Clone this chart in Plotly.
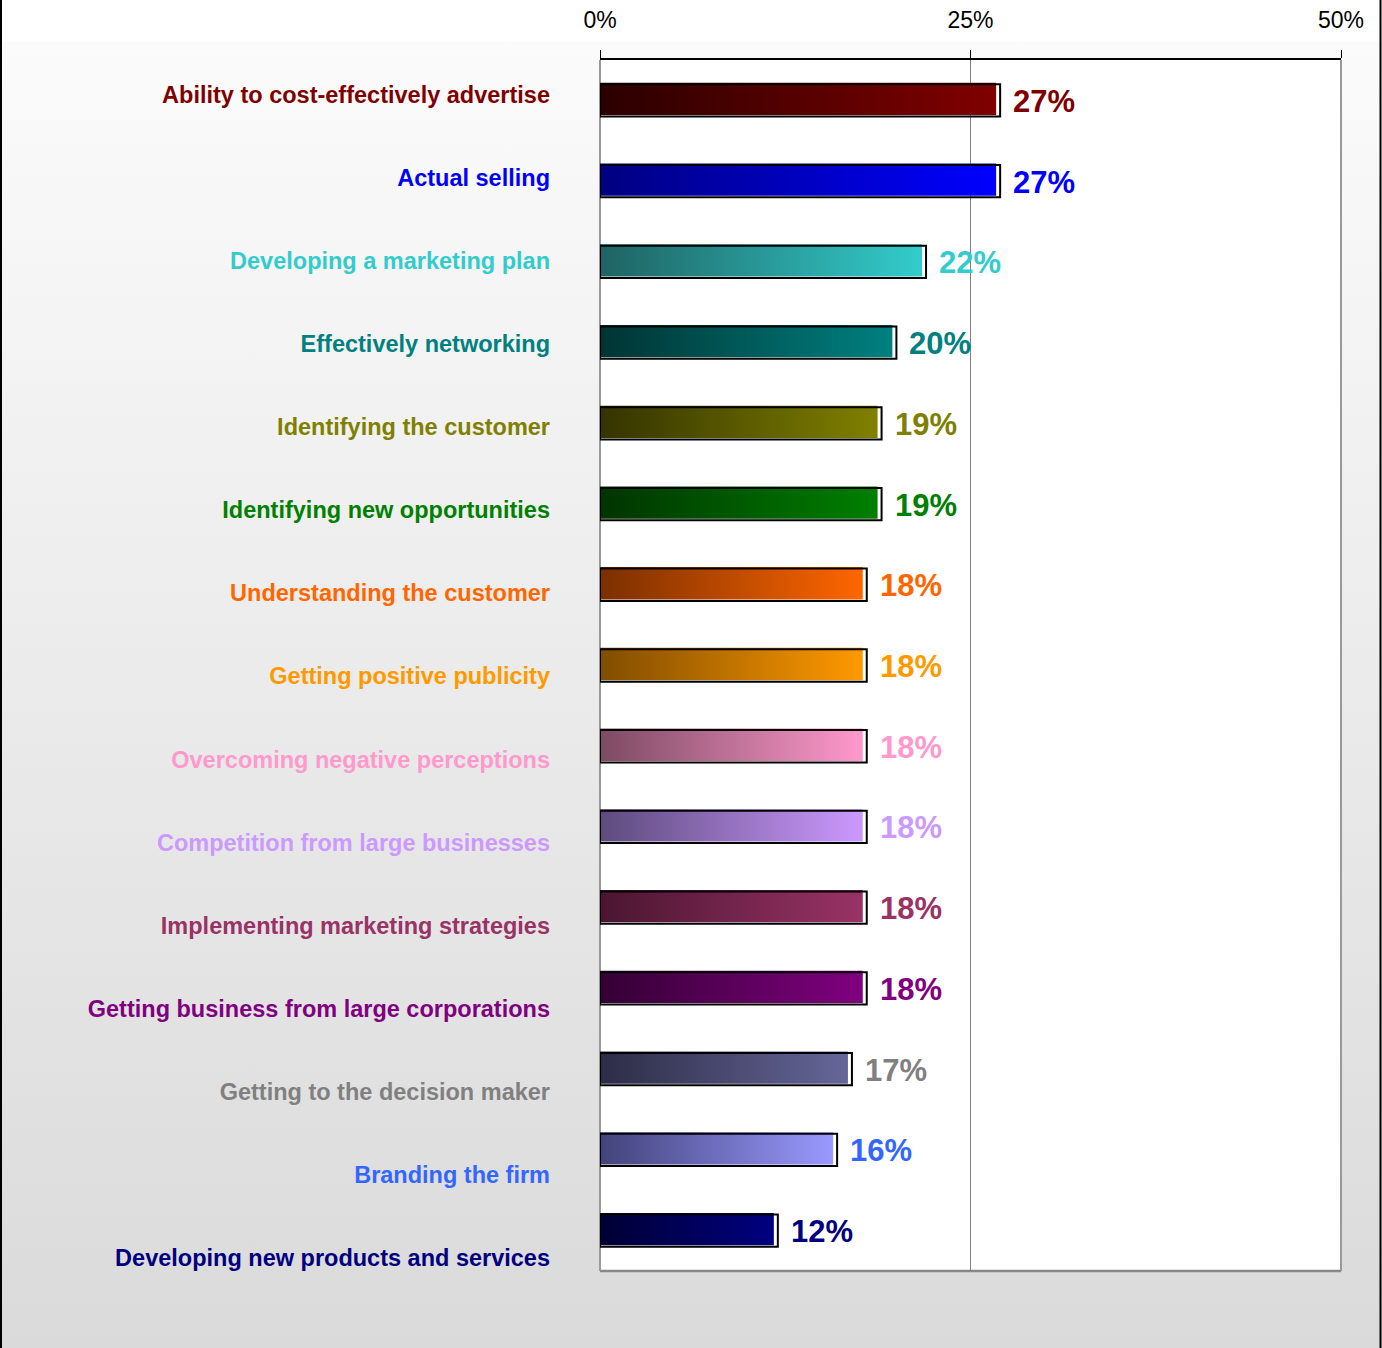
import base64
import plotly.graph_objects as go

categories = [
    "Ability to cost-effectively advertise",
    "Actual selling",
    "Developing a marketing plan",
    "Effectively networking",
    "Identifying the customer",
    "Identifying new opportunities",
    "Understanding the customer",
    "Getting positive publicity",
    "Overcoming negative perceptions",
    "Competition from large businesses",
    "Implementing marketing strategies",
    "Getting business from large corporations",
    "Getting to the decision maker",
    "Branding the firm",
    "Developing new products and services",
]
values = [27, 27, 22, 20, 19, 19, 18, 18, 18, 18, 18, 18, 17, 16, 12]
value_labels = ["27%", "27%", "22%", "20%", "19%", "19%", "18%", "18%", "18%",
                "18%", "18%", "18%", "17%", "16%", "12%"]
x_tick_vals = [0, 25, 50]
x_tick_text = ["0%", "25%", "50%"]

label_colors = ["#800000", "#0000ff", "#33cccc", "#008080", "#808000", "#008000",
                "#ff6600", "#ff9900", "#ff99cc", "#cc99ff", "#993366", "#800080",
                "#808080", "#3366ff", "#000080"]
bar_end_colors = ["#800000", "#0000ff", "#33cccc", "#008080", "#808000", "#008000",
                  "#ff6600", "#ff9900", "#ff99cc", "#cc99ff", "#993366", "#800080",
                  "#666699", "#9999ff", "#000080"]
bar_start_colors = ["#2a0000", "#000080", "#1f6262", "#003333", "#333300", "#003300",
                    "#7a2e00", "#804c00", "#7c4a62", "#5c4a7c", "#4a1530", "#330033",
                    "#2c2c46", "#42427a", "#000033"]

W, H = 1382, 1348
L, R, T, B = 600, 1341, 60, 1271
FONT = "Liberation Sans, Arial, sans-serif"


def pxx(xp):
    return (xp - L) / (R - L)


def pxy(yp):
    return (B - yp) / (B - T)


n = len(categories)
idx = list(range(n))
unit_x = 50 / (R - L)          # data units per pixel on x
unit_y = n / (B - T)           # category units per pixel on y
bar_w = 0.4

fig = go.Figure()

# gradient coloured bars (slightly offset, like the original shadow effect)
for i, v in enumerate(values):
    x0 = -2 * unit_x
    x1 = v - 4 * unit_x
    y0 = i - bar_w / 2 - 1.5 * unit_y
    y1 = y0 + bar_w
    fig.add_trace(go.Scatter(
        x=[x0, x1, x1, x0, x0], y=[y0, y0, y1, y1, y0],
        mode="lines", line=dict(width=0, color="rgba(0,0,0,0)"),
        fill="toself",
        fillgradient=dict(type="horizontal",
                          colorscale=[[0, bar_start_colors[i]], [1, bar_end_colors[i]]]),
        hoverinfo="skip", showlegend=False, xaxis="x", yaxis="y"))

# black outline bars drawn on an overlay subplot (on top)
fig.add_trace(go.Bar(
    x=values, y=idx, orientation="h", width=bar_w,
    marker=dict(color="rgba(0,0,0,0)", line=dict(color="black", width=2)),
    hoverinfo="skip", showlegend=False, xaxis="x2", yaxis="y2"))

# dummy trace to carry the category-label axis
fig.add_trace(go.Scatter(
    x=values, y=idx, mode="markers", marker=dict(opacity=0, size=1),
    hoverinfo="skip", showlegend=False, xaxis="x", yaxis="y3"))

# value labels
for i, v in enumerate(values):
    fig.add_annotation(x=v, y=i, xref="x", yref="y", text=value_labels[i],
                       showarrow=False, xanchor="left", yanchor="middle",
                       xshift=11, yshift=-1,
                       font=dict(family=FONT, size=31, color=label_colors[i], weight="bold"))

# background gradient image
svg = ('<svg xmlns="http://www.w3.org/2000/svg" width="10" height="100" viewBox="0 0 10 100" '
       'preserveAspectRatio="none"><defs><linearGradient id="g" x1="0" y1="0" x2="0" y2="1">'
       '<stop offset="0" stop-color="#fbfbfb"/><stop offset="1" stop-color="#dadada"/>'
       '</linearGradient></defs><rect width="10" height="100" fill="url(#g)"/></svg>')
src = "data:image/svg+xml;base64," + base64.b64encode(svg.encode()).decode()
fig.add_layout_image(dict(source=src, xref="paper", yref="paper",
                          x=pxx(0), y=pxy(42), sizex=W / (R - L), sizey=(H - 42) / (B - T),
                          xanchor="left", yanchor="top", sizing="stretch", layer="below"))

shapes = [
    dict(type="rect", xref="paper", yref="paper", x0=0, x1=1, y0=0, y1=1,
         fillcolor="white", line=dict(width=0), layer="below"),
    dict(type="line", xref="paper", yref="paper", x0=0, x1=1, y0=0, y1=0,
         line=dict(color="#888888", width=2.5), layer="below"),
    dict(type="line", xref="paper", yref="paper", x0=1, x1=1, y0=0, y1=1,
         line=dict(color="#999999", width=2), layer="below"),
    dict(type="line", xref="paper", yref="paper", x0=0, x1=0, y0=0, y1=1,
         line=dict(color="#999999", width=2), layer="below"),
    dict(type="line", xref="paper", yref="paper", x0=pxx(1), x1=pxx(1), y0=pxy(0), y1=pxy(H),
         line=dict(color="black", width=2), layer="above"),
    dict(type="line", xref="paper", yref="paper", x0=pxx(W - 1.5), x1=pxx(W - 1.5),
         y0=pxy(0), y1=pxy(H), line=dict(color="black", width=2), layer="above"),
]

ticktext = [f'<span style="color:{c}">{t}</span>' for c, t in zip(label_colors, categories)]

# category-label axis: slightly different spacing, as in the original
lab_top_px, lab_step_px = 94.5, 83.1
r0 = -(lab_top_px - T) / lab_step_px
r1 = r0 + (B - T) / lab_step_px

fig.update_layout(
    width=W, height=H,
    margin=dict(l=L, r=W - R, t=T, b=H - B),
    paper_bgcolor="white", plot_bgcolor="white",
    showlegend=False, barmode="overlay",
    shapes=shapes,
    xaxis=dict(side="top", range=[0, 50], tickvals=x_tick_vals, ticktext=x_tick_text,
               showgrid=True, gridcolor="#808080", gridwidth=1, zeroline=False,
               showline=True, linecolor="black", linewidth=1.5,
               ticks="outside", ticklen=8, tickcolor="black", tickwidth=1,
               ticklabelstandoff=13, automargin=False,
               tickfont=dict(family=FONT, size=23, color="black"), fixedrange=True),
    xaxis2=dict(overlaying="x", range=[0, 50], visible=False, fixedrange=True,
                automargin=False),
    yaxis=dict(range=[n - 0.5, -0.5], showticklabels=False, showgrid=False,
               zeroline=False, showline=False, ticks="", fixedrange=True, automargin=False),
    yaxis2=dict(overlaying="y", range=[n - 0.5, -0.5], visible=False, fixedrange=True,
                automargin=False),
    yaxis3=dict(overlaying="y", side="left", anchor="x", range=[r1, r0],
                tickvals=idx, ticktext=ticktext, showgrid=False, zeroline=False,
                showline=False, ticks="", ticklabelstandoff=49, automargin=False,
                tickfont=dict(family=FONT, size=23.5, weight="bold"), fixedrange=True),
)

fig.write_html("out.html")
